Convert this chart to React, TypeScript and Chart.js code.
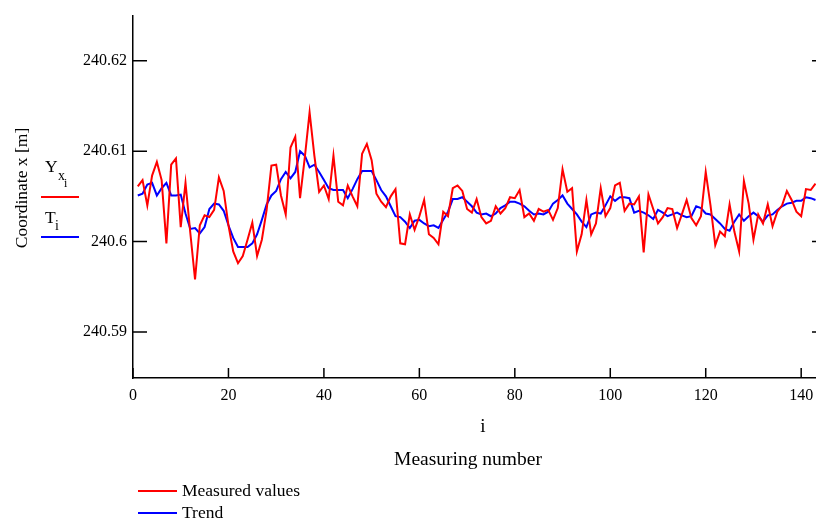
import { useEffect, useRef } from "react";
import { Chart, registerables } from "chart.js";

Chart.register(...registerables);

const startIndex = 1;

const measured = [
  240.6061, 240.6068, 240.604, 240.6073, 240.6088, 240.6068, 240.5998, 240.6085, 240.6092, 240.6016,
  240.6065, 240.601, 240.5958, 240.6018, 240.6029, 240.6027, 240.6035, 240.6071, 240.6056, 240.6018,
  240.5989, 240.5976, 240.5984, 240.6002, 240.6021, 240.5984, 240.6002, 240.6035, 240.6084, 240.6085,
  240.6051, 240.603, 240.6104, 240.6116, 240.6048, 240.6093, 240.6143, 240.6095, 240.6055, 240.6062,
  240.6047, 240.6095, 240.6044, 240.604, 240.6062, 240.605, 240.6039, 240.6097, 240.6108, 240.609,
  240.6053, 240.6044, 240.6038, 240.605, 240.6058, 240.5998, 240.5997, 240.603, 240.6013, 240.6028,
  240.6046, 240.6008, 240.6004, 240.5997, 240.6033, 240.6028, 240.6059, 240.6062, 240.6056, 240.6036,
  240.6032, 240.6047, 240.6027, 240.602, 240.6023, 240.6039, 240.6031, 240.6037, 240.6049, 240.6048,
  240.6057, 240.6027, 240.6031, 240.6023, 240.6036, 240.6033, 240.6035, 240.6024, 240.6037, 240.608,
  240.6055, 240.6059, 240.5989, 240.6008, 240.6046, 240.6008, 240.602, 240.6059, 240.6028, 240.6037,
  240.6062, 240.6065, 240.6034, 240.6042, 240.6041, 240.605, 240.5988, 240.6052, 240.6036, 240.602,
  240.6027, 240.6037, 240.6036, 240.6015, 240.603, 240.6046, 240.6026, 240.6018, 240.6028, 240.6077,
  240.604, 240.5996, 240.6011, 240.6006, 240.6041, 240.6011, 240.5989, 240.6067, 240.6042, 240.6002,
  240.603, 240.602, 240.6041, 240.6017, 240.6033, 240.604, 240.6056, 240.6046, 240.6033, 240.6028,
  240.6058, 240.6057, 240.6064,
];

const trend = [
  240.6051, 240.6053, 240.6063, 240.6065, 240.6051, 240.6059, 240.6065, 240.6051, 240.6051, 240.6052,
  240.6031, 240.6014, 240.6015, 240.6009, 240.6016, 240.6036, 240.6042, 240.6041, 240.6034, 240.6018,
  240.6004, 240.5994, 240.5994, 240.5994, 240.5998, 240.6008, 240.6024, 240.6041, 240.6051, 240.6056,
  240.6069, 240.6077, 240.607, 240.6077, 240.61, 240.6095, 240.6082, 240.6085, 240.6077, 240.6068,
  240.6059, 240.6057, 240.6057, 240.6057, 240.6048, 240.6058, 240.6069, 240.6078, 240.6078, 240.6078,
  240.6068, 240.6057, 240.605, 240.6039, 240.6028, 240.6027, 240.6022, 240.6015, 240.6023, 240.6024,
  240.602, 240.6017, 240.6018, 240.6015, 240.6024, 240.6033, 240.6047, 240.6047, 240.6049, 240.6044,
  240.6039, 240.6032, 240.603, 240.6031, 240.6028, 240.6031, 240.6037, 240.604, 240.6044, 240.6044,
  240.6042, 240.6039, 240.6034, 240.603, 240.6031, 240.603, 240.6033, 240.6042, 240.6046, 240.6051,
  240.6042, 240.6036, 240.603, 240.6022, 240.6016, 240.603, 240.6032, 240.6031, 240.604, 240.605,
  240.6045, 240.6049, 240.6049, 240.6048, 240.6032, 240.6034, 240.6032, 240.6029, 240.6025, 240.6035,
  240.6032, 240.6028, 240.603, 240.6032, 240.6029, 240.6027, 240.6028, 240.6039, 240.6037, 240.6031,
  240.603, 240.6025, 240.602, 240.6014, 240.6012, 240.6022, 240.603, 240.6023, 240.6028, 240.6032,
  240.6028, 240.6022, 240.6029, 240.603, 240.6035, 240.6039, 240.6042, 240.6043, 240.6045, 240.6045,
  240.6049, 240.6048, 240.6046,
];

const xTickValues = [0, 20, 40, 60, 80, 100, 120, 140];
const yTickValues = [240.59, 240.6, 240.61, 240.62];
const yTickLabels = ["240.59", "240.6", "240.61", "240.62"];

const xMin = 0;
const xMax = 145.2;
const yMin = 240.5849;
const yMax = 240.625;

const FONT = "'Liberation Serif', 'Times New Roman', serif";
const RED = "#ff0000";
const BLUE = "#0000ff";

const CANVAS_W = 840;
const CANVAS_H = 520;

const inwardTicks = {
  id: "inwardTicks",
  afterDatasetsDraw(chart: any) {
    const { ctx, chartArea, scales } = chart;
    const { left, right, bottom } = chartArea;
    const xs = scales.x;
    const ys = scales.y;
    ctx.save();
    ctx.strokeStyle = "#000";
    ctx.lineWidth = 1.5;
    ctx.beginPath();
    for (const v of yTickValues) {
      const py = ys.getPixelForValue(v);
      ctx.moveTo(left, py);
      ctx.lineTo(left + 14, py);
      ctx.moveTo(right, py);
      ctx.lineTo(right - 14, py);
    }
    for (const v of xTickValues) {
      const px = xs.getPixelForValue(v);
      ctx.moveTo(px, bottom);
      ctx.lineTo(px, bottom - 10);
    }
    ctx.stroke();
    ctx.restore();
  },
};

function ChartCanvas() {
  const ref = useRef<HTMLCanvasElement | null>(null);
  useEffect(() => {
    if (!ref.current) return;
    const chart = new Chart(ref.current, {
      type: "line",
      data: {
        datasets: [
          {
            label: "Measured values",
            data: measured.map((v, k) => ({ x: startIndex + k, y: v })),
            borderColor: RED,
            borderWidth: 2,
            pointRadius: 0,
            tension: 0,
          },
          {
            label: "Trend",
            data: trend.map((v, k) => ({ x: startIndex + k, y: v })),
            borderColor: BLUE,
            borderWidth: 2,
            pointRadius: 0,
            tension: 0,
          },
        ],
      },
      options: {
        animation: false,
        responsive: false,
        devicePixelRatio: 1,
        layout: { padding: { left: 0, top: 12, right: CANVAS_W - 826, bottom: 0 } },
        plugins: { legend: { display: false }, tooltip: { enabled: false } },
        scales: {
          x: {
            type: "linear",
            min: xMin,
            max: xMax,
            grid: { display: false, drawTicks: false },
            border: { display: true, color: "#000", width: 1.5 },
            afterBuildTicks: (s: any) => {
              s.ticks = xTickValues.map((v) => ({ value: v }));
            },
            afterFit: (s: any) => {
              s.height = CANVAS_H - 378;
            },
            ticks: {
              color: "#000",
              font: { family: FONT, size: 16 },
              padding: 8,
              maxRotation: 0,
              autoSkip: false,
              callback: (v: any) => String(v),
            },
          },
          y: {
            type: "linear",
            min: yMin,
            max: yMax,
            grid: { display: false, drawTicks: false },
            border: { display: true, color: "#000", width: 1.5 },
            afterBuildTicks: (s: any) => {
              s.ticks = yTickValues.map((v) => ({ value: v }));
            },
            afterFit: (s: any) => {
              s.width = 133;
            },
            ticks: {
              color: "#000",
              font: { family: FONT, size: 16 },
              padding: 6,
              autoSkip: false,
              callback: (_v: any, i: number) => yTickLabels[i],
            },
          },
        },
      },
      plugins: [inwardTicks],
    });
    return () => chart.destroy();
  }, []);
  return (
    <canvas
      ref={ref}
      width={CANVAS_W}
      height={CANVAS_H}
      style={{ width: CANVAS_W, height: CANVAS_H, display: "block" }}
    />
  );
}

const abs = (extra: any) => ({
  position: "absolute" as const,
  fontFamily: FONT,
  color: "#000",
  lineHeight: 1,
  whiteSpace: "nowrap" as const,
  ...extra,
});

export default function App() {
  return (
    <div
      style={{
        position: "absolute",
        left: 0,
        top: 0,
        width: 816,
        height: 520,
        overflow: "hidden",
        background: "#fff",
      }}
    >
      <ChartCanvas />
      <div
        style={abs({
          left: 22,
          top: 188,
          fontSize: 17.5,
          transform: "translate(-50%, -50%) rotate(-90deg)",
        })}
      >
        Coordinate x [m]
      </div>
      <span style={abs({ left: 45, top: 158, fontSize: 17.5 })}>Y</span>
      <span style={abs({ left: 58, top: 169, fontSize: 14 })}>x</span>
      <span style={abs({ left: 64, top: 177, fontSize: 12 })}>i</span>
      <div style={abs({ left: 41, top: 196, width: 38, height: 0, borderTop: `2px solid ${RED}` })} />
      <span style={abs({ left: 45, top: 209, fontSize: 17.5 })}>T</span>
      <span style={abs({ left: 55, top: 219, fontSize: 14 })}>i</span>
      <div style={abs({ left: 41, top: 236, width: 38, height: 0, borderTop: `2px solid ${BLUE}` })} />
      <div style={abs({ left: 483, top: 425, fontSize: 19, transform: "translate(-50%, -50%)" })}>i</div>
      <div
        style={abs({ left: 468, top: 459, fontSize: 19.5, transform: "translate(-50%, -50%)" })}
      >
        Measuring number
      </div>
      <div style={abs({ left: 138, top: 490, width: 39, height: 0, borderTop: `2px solid ${RED}` })} />
      <div style={abs({ left: 182, top: 491, fontSize: 17.5, transform: "translateY(-50%)" })}>
        Measured values
      </div>
      <div style={abs({ left: 138, top: 512, width: 39, height: 0, borderTop: `2px solid ${BLUE}` })} />
      <div style={abs({ left: 182, top: 513, fontSize: 17.5, transform: "translateY(-50%)" })}>
        Trend
      </div>
    </div>
  );
}
